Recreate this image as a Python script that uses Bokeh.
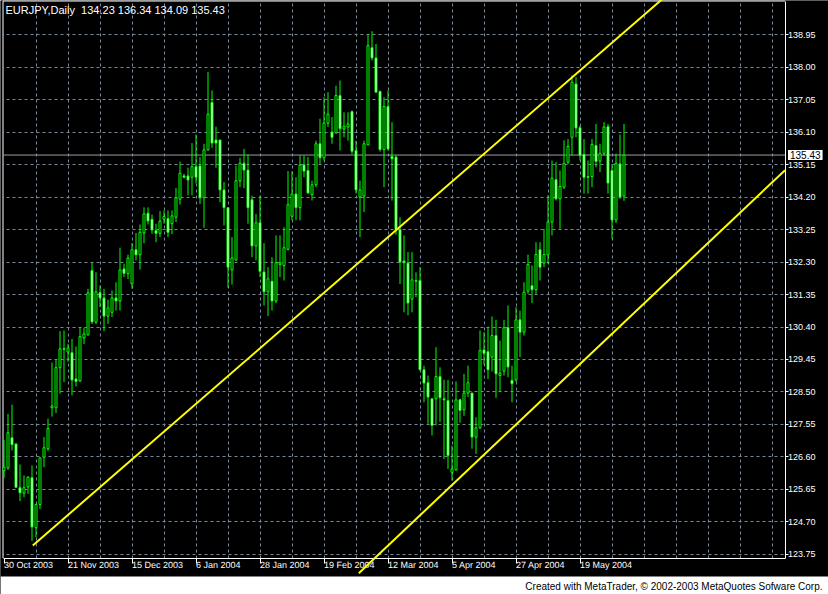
import pandas as pd
from bokeh.plotting import figure
from bokeh.models import ColumnDataSource, FixedTicker, PrintfTickFormatter, Range1d, Label
from bokeh.embed import file_html
from bokeh.resources import INLINE
from bokeh.core.properties import value

symbol = "EURJPY"
period = "Daily"
first_session = "2003-10-30"

opens = [126.20, 126.28, 127.16, 126.98, 125.70, 125.54, 125.72, 125.99, 124.53, 125.21,
         126.59, 126.84, 128.04, 128.04, 129.21, 129.77, 129.67, 129.65, 128.88, 128.82,
         130.08, 130.17, 132.05, 130.54, 131.40, 131.25, 130.72, 130.83, 131.25, 131.16,
         132.10, 131.96, 131.66, 132.66, 132.51, 133.15, 133.73, 133.55, 133.22, 133.14,
         133.55, 133.57, 133.42, 133.61, 134.14, 134.82, 134.82, 134.78, 135.09, 135.11,
         134.18, 135.58, 136.97, 135.87, 135.87, 134.41, 133.89, 132.07, 132.36, 134.67,
         135.19, 134.99, 134.12, 132.77, 133.45, 132.01, 131.43, 131.74, 131.16, 132.23,
         132.20, 132.67, 133.64, 134.29, 133.89, 135.14, 134.98, 134.27, 134.56, 135.76,
         135.35, 136.36, 136.10, 136.08, 137.17, 136.19, 136.25, 136.70, 135.56, 134.20,
         134.23, 135.73, 138.57, 138.27, 137.29, 135.59, 136.85, 135.39, 135.37, 133.25,
         132.33, 132.27, 131.22, 131.76, 131.76, 129.15, 128.77, 128.30, 128.30, 128.95,
         128.30, 128.25, 126.15, 126.22, 128.27, 127.98, 128.47, 128.47, 127.18, 127.45,
         129.73, 129.68, 129.52, 130.15, 128.98, 129.11, 130.38, 128.84, 128.85, 130.61,
         130.25, 131.45, 131.61, 131.49, 132.66, 132.27, 132.51, 133.47, 134.71, 134.15,
         134.49, 135.22, 135.95, 137.51, 136.23, 135.45, 134.80, 134.80, 135.71, 135.25,
         135.48, 136.26, 134.98, 133.53, 135.17, 134.23]
highs = [127.10, 127.86, 128.13, 127.00, 126.38, 126.06, 126.03, 126.35, 125.23, 126.59,
         127.18, 127.72, 129.36, 129.44, 130.28, 130.30, 129.91, 130.05, 129.83, 130.40,
         130.38, 131.52, 132.29, 132.00, 131.61, 131.52, 131.20, 131.47, 131.71, 132.72,
         132.25, 132.52, 132.85, 133.15, 133.40, 133.90, 133.90, 133.69, 133.42, 133.79,
         133.81, 133.81, 133.81, 134.47, 135.24, 134.88, 135.06, 135.78, 136.03, 135.37,
         135.76, 137.86, 137.32, 136.26, 135.87, 134.64, 133.89, 133.03, 135.12, 135.35,
         135.61, 135.45, 134.24, 133.71, 134.24, 132.85, 132.15, 132.44, 133.08, 133.08,
         133.32, 134.96, 134.96, 134.78, 135.42, 135.42, 135.37, 134.68, 135.85, 136.49,
         137.12, 137.27, 136.54, 137.46, 137.61, 136.68, 136.68, 136.73, 135.85, 134.68,
         135.85, 138.97, 139.05, 138.68, 137.32, 137.12, 137.32, 136.39, 135.42, 133.61,
         133.08, 132.59, 132.59, 132.00, 132.15, 129.27, 128.98, 128.30, 129.81, 129.22,
         128.86, 128.85, 126.93, 128.81, 128.30, 129.03, 129.27, 128.47, 127.76, 130.30,
         130.25, 130.41, 130.71, 130.61, 130.00, 130.61, 131.03, 129.27, 130.98, 130.88,
         131.71, 132.52, 132.20, 132.88, 132.88, 133.27, 134.25, 135.27, 135.22, 134.98,
         135.86, 135.90, 137.76, 137.71, 136.29, 135.90, 135.27, 135.90, 136.34, 135.76,
         136.39, 136.34, 135.17, 135.47, 136.03, 136.34]
lows = [125.99, 126.22, 126.79, 125.70, 125.31, 125.42, 125.52, 124.14, 124.25, 125.07,
        126.30, 126.77, 127.78, 127.88, 128.45, 128.79, 129.38, 128.40, 128.66, 128.79,
        129.90, 130.15, 130.49, 130.49, 130.98, 130.28, 130.49, 130.69, 130.88, 130.88,
        131.86, 131.80, 131.52, 132.35, 132.08, 132.85, 133.40, 133.13, 132.88, 133.03,
        133.42, 133.03, 133.12, 133.47, 133.98, 134.75, 134.25, 134.25, 134.60, 134.00,
        133.30, 135.56, 135.64, 135.06, 134.05, 133.37, 131.55, 131.64, 132.33, 134.49,
        134.46, 133.42, 132.44, 132.35, 131.86, 131.03, 130.72, 130.88, 131.10, 131.86,
        131.76, 132.64, 133.52, 133.52, 133.52, 134.78, 134.30, 134.10, 134.49, 135.17,
        135.27, 136.25, 135.76, 136.05, 135.56, 135.95, 135.85, 135.46, 134.30, 133.03,
        133.76, 135.71, 138.20, 137.27, 135.53, 134.49, 135.56, 134.10, 133.10, 131.66,
        130.83, 130.74, 130.83, 131.27, 129.13, 128.20, 127.57, 127.23, 127.52, 127.62,
        126.54, 126.25, 125.91, 126.20, 127.60, 127.80, 128.35, 126.84, 126.69, 127.42,
        129.30, 128.88, 129.10, 128.33, 128.52, 128.98, 128.93, 128.20, 128.80, 129.52,
        130.15, 131.37, 131.10, 131.37, 131.76, 132.15, 132.25, 133.08, 134.10, 133.27,
        134.44, 135.17, 135.42, 135.95, 135.27, 134.30, 134.30, 134.49, 135.07, 134.93,
        135.42, 134.30, 132.98, 133.44, 134.15, 134.09]
closes = [126.30, 127.31, 126.96, 125.71, 125.55, 125.70, 126.01, 124.55, 125.21, 126.57,
          126.87, 127.43, 128.09, 129.21, 129.76, 129.75, 129.79, 128.85, 128.81, 130.12,
          130.20, 131.40, 130.55, 131.43, 131.25, 130.72, 130.96, 131.25, 131.16, 132.07,
          131.97, 132.42, 132.66, 132.51, 133.17, 133.71, 133.50, 133.24, 133.14, 133.50,
          133.63, 133.17, 133.65, 134.18, 134.90, 134.78, 134.70, 135.09, 134.78, 134.18,
          135.58, 136.62, 135.78, 135.78, 134.41, 133.89, 132.15, 132.42, 134.68, 135.19,
          134.99, 133.89, 132.77, 133.45, 132.03, 131.43, 131.81, 131.16, 132.28, 132.28,
          132.72, 133.98, 134.29, 133.89, 135.14, 134.96, 134.32, 134.56, 135.76, 135.35,
          136.37, 136.63, 135.95, 137.17, 136.20, 136.27, 136.34, 135.54, 134.41, 134.41,
          135.76, 138.63, 138.27, 137.27, 135.59, 136.85, 135.61, 135.32, 133.25, 132.30,
          132.28, 131.10, 131.78, 131.74, 129.15, 128.76, 128.35, 127.52, 128.95, 128.33,
          128.27, 126.64, 126.25, 128.27, 127.96, 128.47, 128.77, 127.18, 127.45, 129.71,
          129.63, 129.15, 130.15, 129.03, 129.05, 130.38, 129.23, 128.74, 130.61, 130.25,
          131.42, 132.23, 131.49, 132.52, 132.15, 132.52, 133.47, 134.75, 134.15, 134.51,
          135.19, 135.68, 137.56, 136.22, 135.42, 134.78, 134.78, 135.74, 135.24, 135.48,
          136.25, 134.61, 133.53, 135.19, 134.20, 135.43]

# price scale levels shown on the right
price_levels = [123.75, 124.70, 125.65, 126.60, 127.55, 128.50, 129.45, 130.40, 131.35,
                132.30, 133.25, 134.20, 135.15, 136.10, 137.05, 138.00, 138.95]

# channel trend lines, anchored as (bar, price)
upper_channel = [(7.2, 124.01), (149.1, 138.42)]
lower_channel = [(88.7, 123.20), (195.2, 134.98)]

n = len(closes)
sessions = pd.bdate_range(first_session, periods=n)
bars = list(range(n))

# window geometry (pixels): 4 px per bar, 34.19 px per yen
W, H = 828, 594
PX_PER_BAR, PX_PER_YEN = 4, 34.19
BAR0_PX, TOP_PRICE = 3.5, 139.95
LEFT_PX, RIGHT_PX, TOP_PX, BOTTOM_PX = 2.5, 784.5, 0.5, 557.5
CHART_END_PX = 576          # black chart window ends here, status strip below


def bar_at(px):
    return (px - BAR0_PX) / PX_PER_BAR


def price_at(py):
    return TOP_PRICE - py / PX_PER_YEN


LIME = "#00FF00"
GRID = "#778899"
FONT = "Liberation Sans"

src = ColumnDataSource(dict(
    x=bars, open=opens, high=highs, low=lows, close=closes,
    top=[max(o, c) for o, c in zip(opens, closes)],
    bottom=[min(o, c) for o, c in zip(opens, closes)],
    fill=["white" if c < o else "black" for o, c in zip(opens, closes)],
))

p = figure(width=W, height=H, title=None,
           x_range=Range1d(bar_at(0), bar_at(W)), y_range=Range1d(price_at(H), price_at(0)),
           output_backend="svg", toolbar_location=None,
           x_axis_location="below", y_axis_location="right",
           background_fill_color="black", border_fill_color="black", min_border=0)
p.outline_line_color = None

# dotted grid
p.xgrid.ticker = FixedTicker(ticks=list(range(8, int(bar_at(RIGHT_PX)) + 1, 8)))
p.ygrid.ticker = FixedTicker(ticks=price_levels)
for g in (p.xgrid, p.ygrid):
    g.grid_line_color = GRID
    g.grid_line_dash = "3 3"
    g.grid_line_width = 1

# keep the grid inside the chart box: black margins, white status strip
x0, x1 = bar_at(0), bar_at(W)
y0, y1 = price_at(H), price_at(0)
p.quad(left=[bar_at(RIGHT_PX), x0, x0], right=[x1, x1, bar_at(LEFT_PX)],
       bottom=[y0, y0, y0], top=[y1, price_at(BOTTOM_PX), y1],
       fill_color="black", line_color=None)
p.quad(left=[x0], right=[x1], bottom=[y0], top=[price_at(CHART_END_PX)],
       fill_color="white", line_color=None)

# left and top edges of the chart box
p.line([bar_at(LEFT_PX), bar_at(LEFT_PX), bar_at(RIGHT_PX)],
       [price_at(BOTTOM_PX), price_at(TOP_PX), price_at(TOP_PX)],
       line_color="white", line_width=1)

# last price line
p.segment(x0=[bar_at(LEFT_PX)], y0=[closes[-1]], x1=[bar_at(RIGHT_PX)], y1=[closes[-1]],
          line_color="#9A9AA6", line_width=1)

# candles: wicks, then bodies (bear filled white, bull hollow)
p.segment(x0="x", y0="low", x1="x", y1="high", source=src, line_color=LIME, line_width=1)
p.vbar(x="x", width=0.5, top="top", bottom="bottom", source=src,
       fill_color="fill", line_color=LIME, line_width=1)


def ray(a, b, x_end):
    slope = (b[1] - a[1]) / (b[0] - a[0])
    return [a[0], x_end], [a[1], a[1] + slope * (x_end - a[0])]


for chan, x_end in ((upper_channel, bar_at(W)), (lower_channel, bar_at(RIGHT_PX))):
    xs, ys = ray(chan[0], chan[1], x_end)
    p.line(xs, ys, line_color="#FFFF00", line_width=2, level="overlay")

# date axis along the bottom edge, a label every 16 sessions
label_bars = bars[::16]
xa = p.xaxis[0]
xa.fixed_location = price_at(BOTTOM_PX)
xa.bounds = (bar_at(LEFT_PX), bar_at(RIGHT_PX))
xa.ticker = FixedTicker(ticks=label_bars)
xa.major_label_overrides = {b: f"{sessions[b].day} {sessions[b].strftime('%b %Y')}" for b in label_bars}
xa.major_label_orientation = -0.001
xa.major_tick_out = 5
xa.major_label_standoff = 2

# price axis along the right edge
ya = p.yaxis[0]
ya.fixed_location = bar_at(RIGHT_PX)
ya.bounds = (price_at(BOTTOM_PX), price_at(TOP_PX))
ya.ticker = FixedTicker(ticks=price_levels)
ya.formatter = PrintfTickFormatter(format="%.2f")
ya.major_tick_out = 3
ya.major_label_standoff = 0

for ax in (xa, ya):
    ax.axis_line_color = "white"
    ax.major_tick_line_color = "white"
    ax.minor_tick_line_color = None
    ax.major_tick_in = 0
    ax.major_label_text_color = "white"
    ax.major_label_text_font = FONT
    ax.major_label_text_font_size = "9px"

# symbol header with the last bar's OHLC
header = f"{symbol},{period}\u00a0 {opens[-1]:.2f} {highs[-1]:.2f} {lows[-1]:.2f} {closes[-1]:.2f}"
p.add_layout(Label(x=bar_at(5), y=price_at(3), text=header,
                   text_color="white", text_font=FONT, text_font_size="11px",
                   text_baseline="top", text_align="left"))

# last price tag on the price scale
p.add_layout(Label(x=bar_at(RIGHT_PX), y=closes[-1], x_offset=3, text=f"{closes[-1]:.2f}",
                   text_color="black", text_font=FONT, text_font_size="10px",
                   text_baseline="middle", text_align="left",
                   background_fill_color="white", padding=(2, 1)))

# status strip credit
p.text(x=[bar_at(822)], y=[price_at(585.5)],
       text=["Created with MetaTrader, \u00a9 2002-2003 MetaQuotes Sofware Corp."],
       text_align="right", text_baseline="middle", text_color="black",
       text_font=value(FONT), text_font_size="10px")

open("out.html", "w").write(file_html(p, INLINE))
